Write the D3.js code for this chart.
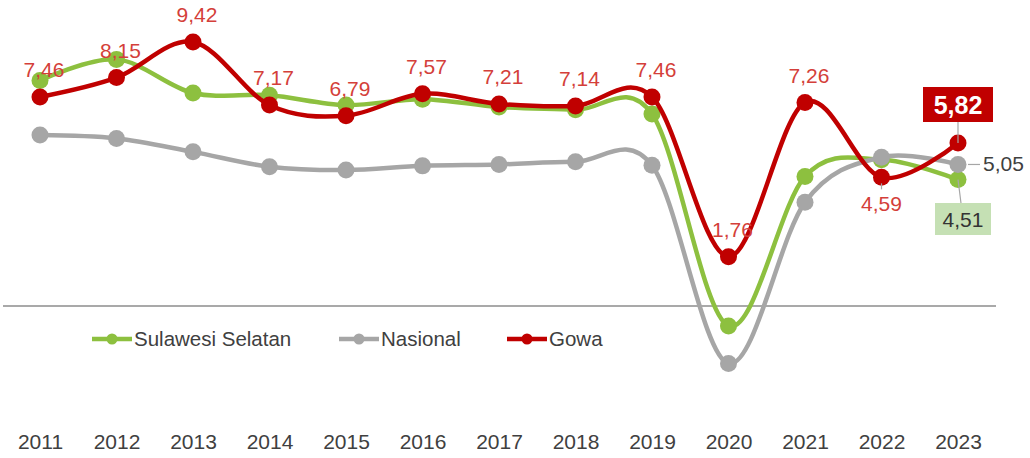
<!DOCTYPE html>
<html>
<head>
<meta charset="utf-8">
<script src="https://cdn.jsdelivr.net/npm/d3@7"></script>
<style>
  body { margin: 0; background: #fff; }
  svg { display: block; font-family: "Liberation Sans", Arial, sans-serif; }
</style>
</head>
<body>
<svg id="chart" width="1030" height="458"></svg>
<script>
// data
var years = [2011, 2012, 2013, 2014, 2015, 2016, 2017, 2018, 2019, 2020, 2021, 2022, 2023];
var gowa = [7.46, 8.15, 9.42, 7.17, 6.79, 7.57, 7.21, 7.14, 7.46, 1.76, 7.26, 4.59, 5.82];
var sulsel = [8.05, 8.80, 7.60, 7.52, 7.17, 7.38, 7.10, 7.00, 6.85, -0.71, 4.62, 5.22, 4.51];
var nasional = [6.10, 5.98, 5.50, 4.97, 4.85, 5.00, 5.05, 5.15, 5.02, -2.05, 3.70, 5.31, 5.05];
var seriesNames = ['Sulawesi Selatan', 'Nasional', 'Gowa'];

var fmt = function(v) { return d3.format('.2f')(v).replace('.', ','); };

var svg = d3.select('#chart');
var x = d3.scalePoint().domain(years).range([40, 958]);
var y = d3.scaleLinear().domain([0, 9.42]).range([306, 42]);

var colors = { 'Sulawesi Selatan': '#8dc03f', 'Nasional': '#a6a6a6', 'Gowa': '#c00000' };
// drawing order: green at the back, then gray, red on top
var series = [
  { name: 'Sulawesi Selatan', values: sulsel },
  { name: 'Nasional', values: nasional },
  { name: 'Gowa', values: gowa }
];

// zero line
svg.append('line')
  .attr('x1', 3).attr('x2', 996)
  .attr('y1', y(0)).attr('y2', y(0))
  .attr('stroke', '#8c8c8c').attr('stroke-width', 1.5);

// x axis labels
var xAxis = d3.axisBottom(x).tickSize(0).tickPadding(0);
var gx = svg.append('g').attr('transform', 'translate(0,434)').call(xAxis);
gx.select('.domain').remove();
gx.selectAll('text')
  .attr('font-size', 21).attr('fill', '#404040')
  .attr('font-family', '"Liberation Sans", Arial, sans-serif');

var line = d3.line()
  .x(function(d, i) { return x(years[i]); })
  .y(function(d) { return y(d); })
  .curve(d3.curveCardinal.tension(0));

series.forEach(function(s) {
  var g = svg.append('g');
  g.append('path')
    .attr('d', line(s.values))
    .attr('fill', 'none')
    .attr('stroke', colors[s.name])
    .attr('stroke-width', 4.5);
  g.selectAll('circle')
    .data(s.values)
    .enter().append('circle')
    .attr('cx', function(d, i) { return x(years[i]); })
    .attr('cy', function(d) { return y(d); })
    .attr('r', 8.5)
    .attr('fill', colors[s.name]);
});

// Gowa labels above points (except the last two, handled separately)
var labelG = svg.append('g');
gowa.forEach(function(v, i) {
  if (i >= 11) return;
  labelG.append('text')
    .attr('x', x(years[i]) + 4)
    .attr('y', y(v) - 20)
    .attr('text-anchor', 'middle')
    .attr('font-size', 21)
    .attr('fill', '#d43f3a')
    .text(fmt(v));
});

// 2022 Gowa label below
var i22 = 11;
labelG.append('line')
  .attr('x1', x(years[i22])).attr('x2', x(years[i22]))
  .attr('y1', y(gowa[i22]) + 6).attr('y2', y(gowa[i22]) + 12)
  .attr('stroke', '#a6a6a6').attr('stroke-width', 1.2);
labelG.append('text')
  .attr('x', x(years[i22]))
  .attr('y', y(gowa[i22]) + 34)
  .attr('text-anchor', 'middle')
  .attr('font-size', 21)
  .attr('fill', '#d43f3a')
  .text(fmt(gowa[i22]));

// 2023 callouts
var last = 12;
var lx = x(years[last]);
// Gowa box
labelG.append('line')
  .attr('x1', lx).attr('x2', lx)
  .attr('y1', 122).attr('y2', y(gowa[last]))
  .attr('stroke', '#a6a6a6').attr('stroke-width', 1.2);
labelG.append('rect')
  .attr('x', lx - 35).attr('y', 87).attr('width', 70).attr('height', 35)
  .attr('fill', '#c00000');
labelG.append('text')
  .attr('x', lx).attr('y', 114)
  .attr('text-anchor', 'middle')
  .attr('font-size', 25).attr('font-weight', 'bold')
  .attr('fill', '#fff')
  .text(fmt(gowa[last]));
// Nasional
labelG.append('line')
  .attr('x1', lx + 10).attr('x2', lx + 22)
  .attr('y1', y(nasional[last])).attr('y2', y(nasional[last]))
  .attr('stroke', '#a6a6a6').attr('stroke-width', 1.2);
labelG.append('text')
  .attr('x', lx + 25).attr('y', y(nasional[last]) + 7)
  .attr('font-size', 21)
  .attr('fill', '#404040')
  .text(fmt(nasional[last]));
// Sulsel box
labelG.append('line')
  .attr('x1', lx).attr('x2', lx + 3)
  .attr('y1', y(sulsel[last])).attr('y2', 203)
  .attr('stroke', '#a6a6a6').attr('stroke-width', 1.2);
labelG.append('rect')
  .attr('x', lx - 23).attr('y', 203).attr('width', 56).attr('height', 32)
  .attr('fill', '#c5e0b4');
labelG.append('text')
  .attr('x', lx + 5).attr('y', 227)
  .attr('text-anchor', 'middle')
  .attr('font-size', 21)
  .attr('fill', '#333')
  .text(fmt(sulsel[last]));

// legend
var legendX = [92, 339, 507];
var legend = svg.append('g').attr('transform', 'translate(0,339)');
seriesNames.forEach(function(name, i) {
  var g = legend.append('g').attr('transform', 'translate(' + legendX[i] + ',0)');
  g.append('line').attr('x1', 0).attr('x2', 40)
    .attr('stroke', colors[name]).attr('stroke-width', 4.5);
  g.append('circle').attr('cx', 20).attr('r', 5.5).attr('fill', colors[name]);
  g.append('text').attr('x', 42).attr('y', 7)
    .attr('font-size', 20.5).attr('fill', '#404040')
    .text(name);
});
</script>
</body>
</html>
